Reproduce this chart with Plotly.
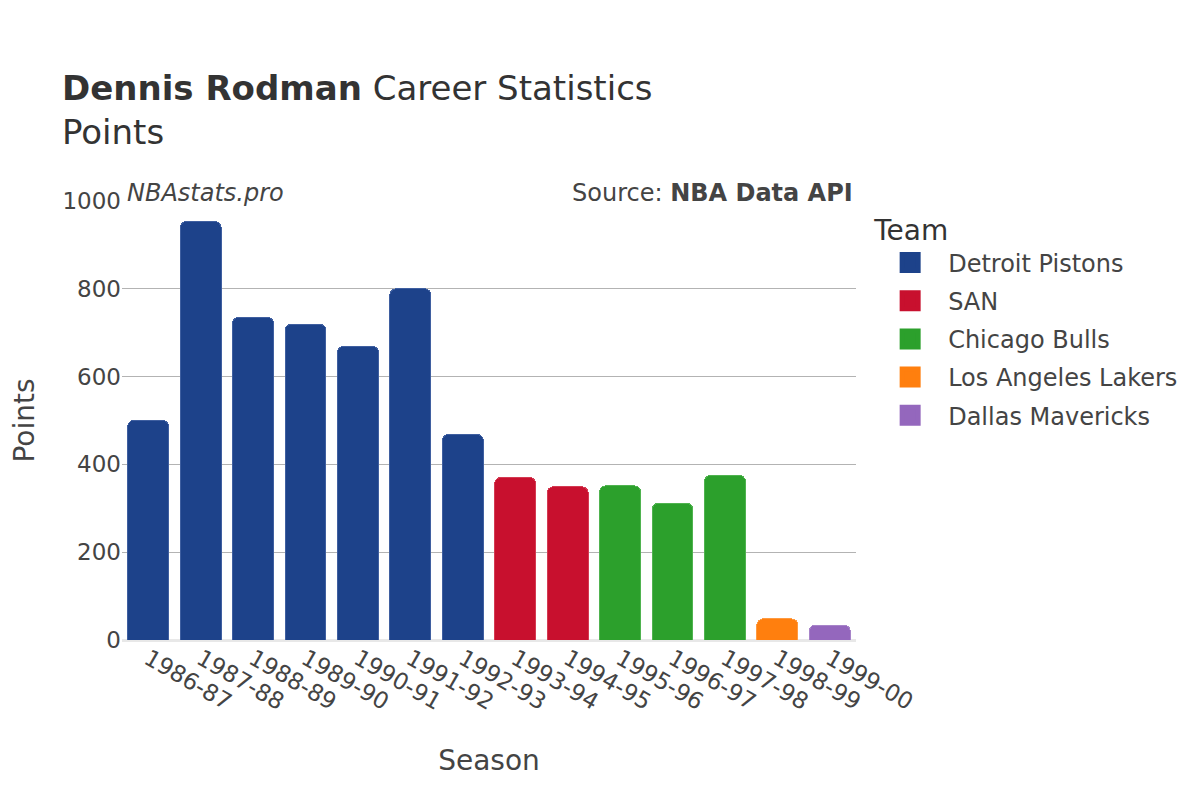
import plotly.graph_objects as go

seasons = ["1986-87", "1987-88", "1988-89", "1989-90", "1990-91", "1991-92", "1992-93",
           "1993-94", "1994-95", "1995-96", "1996-97", "1997-98", "1998-99", "1999-00"]
points = [500, 953, 735, 719, 669, 800, 468, 370, 349, 351, 311, 375, 48, 34]
teams = ["Detroit Pistons"] * 7 + ["SAN"] * 2 + ["Chicago Bulls"] * 3 + ["Los Angeles Lakers", "Dallas Mavericks"]

team_order = ["Detroit Pistons", "SAN", "Chicago Bulls", "Los Angeles Lakers", "Dallas Mavericks"]
team_colors = {
    "Detroit Pistons": "#1d428a",
    "SAN": "#c8102e",
    "Chicago Bulls": "#2ca02c",
    "Los Angeles Lakers": "#ff7f0e",
    "Dallas Mavericks": "#9467bd",
}
line_colors = {
    "Detroit Pistons": "#3f5fa0",
    "SAN": "#d43a52",
    "Chicago Bulls": "#4fb34f",
    "Los Angeles Lakers": "#ff9a40",
    "Dallas Mavericks": "#a784c9",
}

FONT = "DejaVu Sans"
fig = go.Figure()
for t in team_order:
    xs = [s for s, tm in zip(seasons, teams) if tm == t]
    ys = [p for p, tm in zip(points, teams) if tm == t]
    fig.add_trace(go.Bar(
        x=xs, y=ys, name=t, legendgroup=t, showlegend=False,
        marker=dict(color=team_colors[t], line=dict(color=line_colors[t], width=1), cornerradius=6),
    ))
    # legend-only entry with a larger swatch
    fig.add_trace(go.Scatter(
        x=[None], y=[None], name=t, legendgroup=t, showlegend=True, mode="markers",
        marker=dict(symbol="square", size=16, color=team_colors[t],
                    line=dict(color=team_colors[t], width=5)),
    ))

fig.update_layout(
    width=1200, height=800,
    barmode="stack", bargap=0.22,
    plot_bgcolor="white", paper_bgcolor="white",
    font=dict(family=FONT, color="#333333"),
    margin=dict(l=114, r=352, t=193, b=168, autoexpand=False),
    title=dict(
        text="<b>Dennis Rodman</b> Career Statistics<br>Points",
        x=54 / 1200, xref="container", xanchor="left",
        y=1 - 92 / 800, yref="container", yanchor="top",
        font=dict(size=34, color="#333333", family=FONT),
    ),
    xaxis=dict(
        title=dict(text="Season", font=dict(size=28, color="#444444"), standoff=36),
        categoryorder="array", categoryarray=seasons, automargin=False,
        tickangle=30, tickfont=dict(size=23, color="#444444"),
        showgrid=False, showline=False,
    ),
    yaxis=dict(
        title=dict(text="Points", font=dict(size=28, color="#444444"), standoff=46),
        range=[0, 1000], tickvals=[0, 200, 400, 600, 800, 1000], automargin=False,
        tickfont=dict(size=23, color="#444444"),
        showgrid=True, gridcolor="#b3b3b3", gridwidth=1,
        zeroline=True, zerolinecolor="#e8e8e8", zerolinewidth=3,
    ),
    legend=dict(
        title=dict(text="Team", font=dict(size=28, color="#333333")),
        font=dict(size=24, color="#444444"),
        x=1.022, xanchor="left", y=1.0 - 3 / 439, yanchor="top",
        traceorder="grouped", tracegroupgap=4, itemwidth=66,
        itemsizing="trace",
    ),
    annotations=[
        dict(text="<i>NBAstats.pro</i>", x=0.0, xref="paper", xanchor="left",
             y=1.0, yref="paper", yanchor="bottom", yshift=-8, xshift=3, showarrow=False,
             font=dict(size=24, color="#444444")),
        dict(text="Source: <b>NBA Data API</b>", x=1.0, xref="paper", xanchor="right",
             y=1.0, yref="paper", yanchor="bottom", yshift=-8, xshift=-1, showarrow=False,
             font=dict(size=24, color="#444444")),
    ],
)

fig.write_html("out.html")
